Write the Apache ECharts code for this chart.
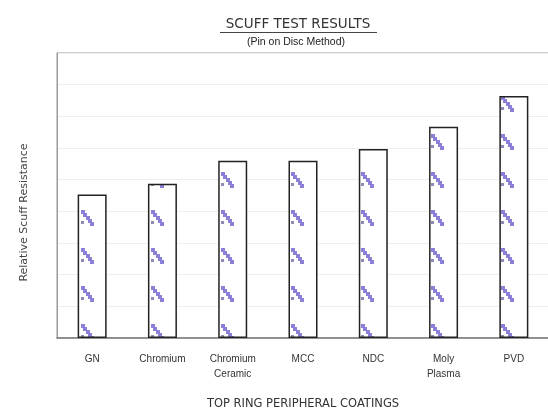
<!DOCTYPE html>
<html>
<head>
<meta charset="utf-8">
<script src="https://cdn.jsdelivr.net/npm/echarts@6/dist/echarts.min.js"></script>
<style>
  html, body { margin: 0; padding: 0; background: #fff; }
  #main { width: 548px; height: 414px; }
</style>
</head>
<body>
<div id="main"></div>
<script>
// data
var categories = ['GN', 'Chromium', 'Chromium\nCeramic', 'MCC', 'NDC', 'Moly\nPlasma', 'PVD'];
var scuffValues = [4.53, 4.87, 5.6, 5.6, 5.97, 6.67, 7.64];

// hatch tile for the bars (purple staircase)
function make_tile() {
	var c = document.createElement('canvas');
	c.width = 35;
	c.height = 38;
	var ctx = c.getContext('2d');
	ctx.fillStyle = '#fff';
	ctx.fillRect(0, 0, 35, 38);
	ctx.fillStyle = '#8a80d8';
	ctx.fillRect(11, 20, 4, 4);
	ctx.fillRect(13, 23, 4, 4);
	ctx.fillRect(16, 26, 4, 4);
	ctx.fillRect(18, 29, 4, 4);
	ctx.fillRect(20, 32, 4, 4);
	ctx.fillStyle = '#8c8cb4';
	ctx.fillRect(11, 31, 3, 3);
	return c;
}

var dom = document.getElementById('main');
var myChart = echarts.init(dom);
var option = {
	backgroundColor: '#fff',
	animation: false,
	grid: {
		left: 57,
		right: -1,
		top: 53,
		bottom: 76,
		outerBoundsMode: 'none',
		containLabel: false,
		show: true,
		borderColor: '#999',
		borderWidth: 1
	},
	graphic: [
		{
			type: 'text',
			x: 298, y: 17,
			style: {
				text: 'SCUFF TEST RESULTS',
				fill: '#333',
				font: '13.5px "DejaVu Sans"',
				textAlign: 'center'
			}
		},
		{
			type: 'line',
			shape: { x1: 220, y1: 32.5, x2: 377, y2: 32.5 },
			style: { stroke: '#444', lineWidth: 1 }
		},
		{
			type: 'text',
			x: 296, y: 37,
			style: {
				text: '(Pin on Disc Method)',
				fill: '#222',
				font: '10.5px "Liberation Sans"',
				textAlign: 'center'
			}
		}
	],
	xAxis: {
		type: 'category',
		data: categories,
		name: 'TOP RING PERIPHERAL COATINGS',
		nameLocation: 'middle',
		nameGap: 60,
		nameTextStyle: { color: '#333', fontSize: 11.5, fontFamily: 'DejaVu Sans' },
		axisLine: { lineStyle: { color: '#777', width: 1.5 } },
		axisTick: { show: false },
		axisLabel: {
			color: '#333',
			fontSize: 10,
			fontFamily: 'Liberation Sans',
			margin: 14,
			lineHeight: 15,
			interval: 0
		}
	},
	yAxis: {
		type: 'value',
		min: 0,
		max: 9,
		interval: 1,
		name: 'Relative Scuff Resistance',
		nameLocation: 'middle',
		nameGap: 27,
		nameRotate: 90,
		nameTextStyle: { color: '#444', fontSize: 11, fontFamily: 'DejaVu Sans', padding: [0, 34, 0, 0] },
		axisLine: { show: true, lineStyle: { color: '#999' } },
		axisTick: { show: false },
		axisLabel: { show: false },
		splitLine: { lineStyle: { color: '#eeeeee' } }
	},
	series: [
		{
			type: 'bar',
			data: scuffValues,
			barWidth: 29,
			itemStyle: {
				color: { image: make_tile(), repeat: 'repeat' },
				borderColor: '#222',
				borderWidth: 1.5
			}
		}
	]
};
myChart.setOption(option);
</script>
</body>
</html>
